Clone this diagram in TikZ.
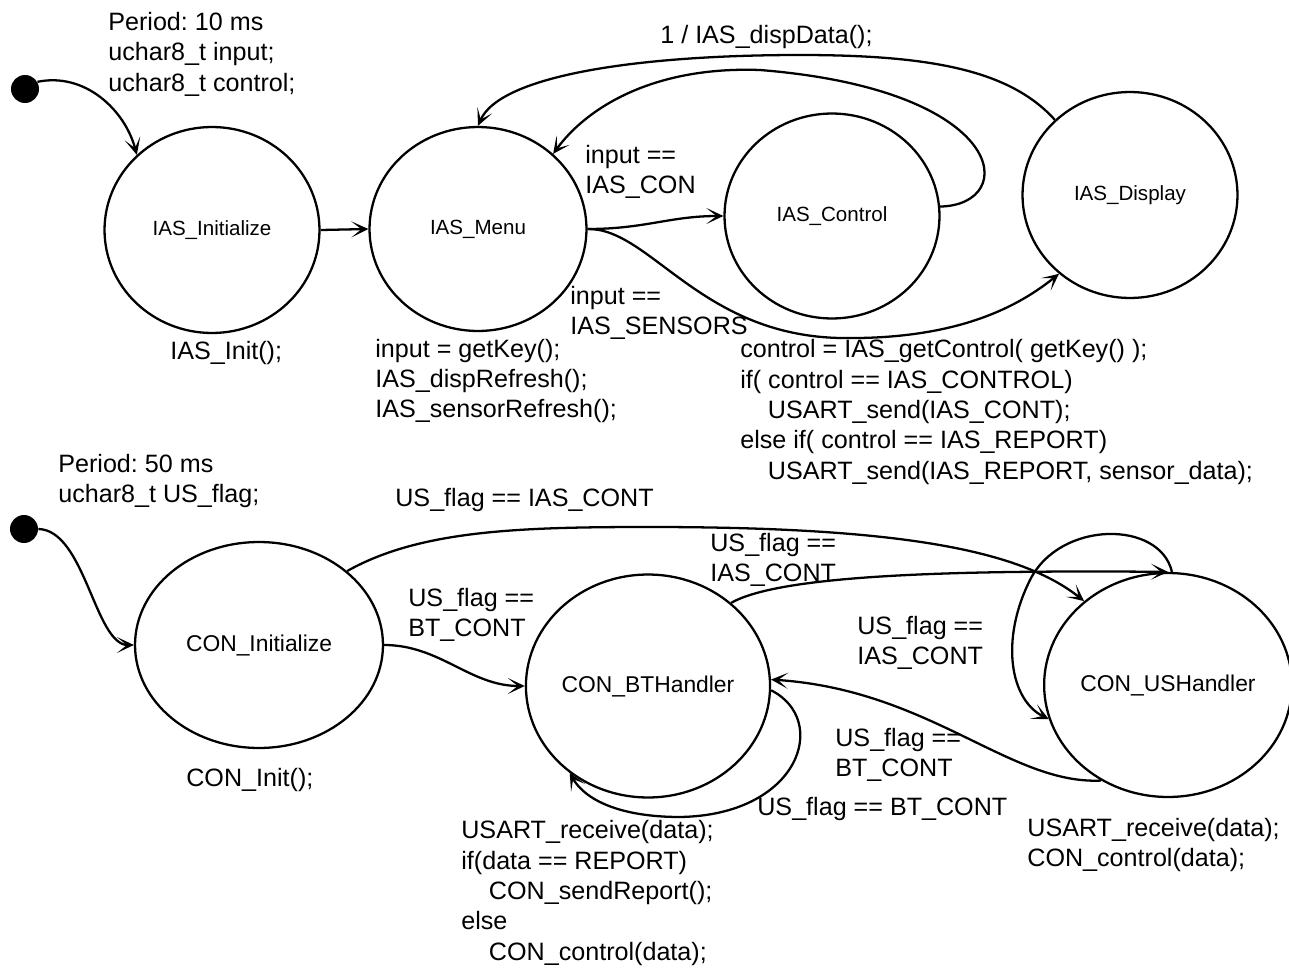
\documentclass[tikz,border=0pt]{standalone}
\usepackage{fontspec}
\setmainfont{Liberation Sans}
\usetikzlibrary{arrows.meta,shapes.geometric}
\tikzset{
  state/.style={draw,ellipse,line width=1.3pt,inner sep=0pt,font=\fontsize{11.7}{14}\selectfont},
  bigstate/.style={state,font=\fontsize{13}{15}\selectfont},
  txt/.style={inner sep=0pt,anchor=west,align=left,font=\fontsize{14.3}{17.3}\selectfont},
  tr/.style={line width=1.3pt,-{Stealth[length=0.34cm,width=0.32cm,inset=0.2cm]}},
  startdot/.style={circle,fill=black,minimum size=0.56cm,inner sep=0pt}
}
\newcommand{\ind}{\hspace*{1.1em}}
\frenchspacing

\begin{document}
\begin{tikzpicture}[x=0.02cm,y=-0.02cm]
\useasboundingbox (0,0) rectangle (1289,970);
% upper machine
\node[startdot] (s1) at (25,89) {};
\node[state,minimum width=4.3cm,minimum height=4.12cm] (ini) at (212,230) {IAS\_Initialize};
\node[state,minimum width=4.34cm,minimum height=4.08cm] (menu) at (478,229) {IAS\_Menu};
\node[state,minimum width=4.3cm,minimum height=4.1cm] (ctrl) at (832,216) {IAS\_Control};
\node[state,minimum width=4.3cm,minimum height=4.12cm] (disp) at (1130,195) {IAS\_Display};
\node[txt] (per1) at (108,54) {Period: 10 ms\\uchar8\_t input;\\uchar8\_t control;};
\node[txt] (iniact) at (170,353) {IAS\_Init();};
\node[txt] (menuact) at (375,381) {input = getKey();\\IAS\_dispRefresh();\\IAS\_sensorRefresh();};
\node[txt] (dispact) at (740,412) {control = IAS\_getControl( getKey() );\\if( control == IAS\_CONTROL)\\\ind USART\_send(IAS\_CONT);\\else if( control == IAS\_REPORT)\\\ind USART\_send(IAS\_REPORT, sensor\_data);};
\node[txt] (lcon) at (585,172) {input ==\\IAS\_CON};
\node[txt] (lsens) at (570,313) {input ==\\IAS\_SENSORS};
\node[txt] (ldisp) at (660,37) {1 / IAS\_dispData();};
\draw[tr] (s1.30) .. controls (85,72) and (125,110) .. (ini.135);
\draw[tr] (ini.east) -- (menu.west);
\draw[tr] (menu.east) .. controls (645,229) and (670,216) .. (ctrl.west);
\draw[tr] (menu.east) .. controls (650,228) and (700,335) .. (840,338) .. controls (960,340) and (1020,305) .. (disp.228);
\draw[tr] (ctrl.5) .. controls (1020,205) and (1010,90) .. (760,70) .. controls (650,66) and (585,110) .. (menu.45);
\draw[tr] (disp.135) .. controls (1010,70) and (930,55) .. (800,55) .. controls (640,55) and (500,75) .. (menu.north);
% lower machine
\node[startdot] (s2) at (24,529) {};
\node[bigstate,minimum width=4.96cm,minimum height=4.12cm] (cini) at (259,645) {CON\_Initialize};
\node[bigstate,minimum width=4.7cm,minimum height=4.46cm] (bt) at (648,686) {CON\_BTHandler};
\node[bigstate,minimum width=4.68cm,minimum height=4.48cm] (us) at (1168,685) {CON\_USHandler};
\node[txt] (per2) at (58,481) {Period: 50 ms\\uchar8\_t US\_flag;};
\node[txt] (ciniact) at (186,780) {CON\_Init();};
\node[txt] (btact) at (461,893) {USART\_receive(data);\\if(data == REPORT)\\\ind CON\_sendReport();\\else\\\ind CON\_control(data);};
\node[txt] (usact) at (1027,845) {USART\_receive(data);\\CON\_control(data);};
\node[txt] (lia) at (395,500) {US\_flag == IAS\_CONT};
\node[txt] (lbt) at (408,615) {US\_flag ==\\BT\_CONT};
\node[txt] (lbtus) at (710,560) {US\_flag ==\\IAS\_CONT};
\node[txt] (lusloop) at (857,643) {US\_flag ==\\IAS\_CONT};
\node[txt] (lusbt) at (835,755) {US\_flag ==\\BT\_CONT};
\node[txt] (lbtloop) at (757,809) {US\_flag == BT\_CONT};
\draw[tr] (s2.east) .. controls (85,530) and (95,645) .. (cini.west);
\draw[tr] (cini.40) .. controls (420,530) and (520,527) .. (650,527) .. controls (900,527) and (1020,550) .. (us.135);
\draw[tr] (cini.east) .. controls (440,645) and (470,686) .. (bt.west);
\draw[tr] (bt.45) .. controls (780,575) and (950,570) .. (us.north);
\draw[tr] (us.235) .. controls (1010,785) and (930,690) .. (bt.3);
\draw[tr] (bt.-2) .. controls (830,720) and (800,815) .. (680,817) .. controls (620,817) and (585,800) .. (bt.228);
\draw[tr] (us.88) .. controls (1160,520) and (1060,520) .. (1030,580) .. controls (1000,640) and (1010,700) .. (us.196);
\end{tikzpicture}
\end{document}
